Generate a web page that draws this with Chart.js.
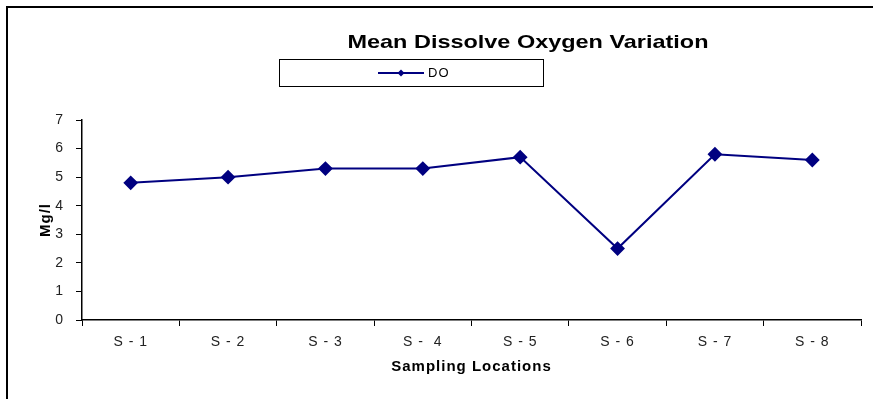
<!DOCTYPE html>
<html>
<head>
<meta charset="utf-8">
<title>Mean Dissolve Oxygen Variation</title>
<script src="https://cdn.jsdelivr.net/npm/chart.js@4"></script>
<style>
    body { margin: 0; background: #fff; }
    canvas { display: block; }
</style>
</head>
<body>
<canvas id="doChart" width="873" height="399"></canvas>
<script>
// data
const locations = ['S - 1', 'S - 2', 'S - 3', 'S -  4', 'S - 5', 'S - 6', 'S - 7', 'S - 8'];
const doValues = [4.8, 5.0, 5.3, 5.3, 5.7, 2.5, 5.8, 5.6];
const yTicks = [0, 1, 2, 3, 4, 5, 6, 7];

const lineColor = '#000080';
const fontName = '"Liberation Sans", Arial, sans-serif';

// frame, title and legend box like the excel sheet
const decorPlugin = {
    id: 'decor',
    beforeDraw: (chart) => {
        // the original text looks a bit stretched sideways
        chart.ctx.letterSpacing = '1px';
    },
    afterDraw: (chart) => {
        const ctx = chart.ctx;
        ctx.save();
        ctx.letterSpacing = '0px';
        // outer frame (top + left only visible)
        ctx.strokeStyle = '#000';
        ctx.lineWidth = 2;
        ctx.beginPath();
        ctx.moveTo(7, 399);
        ctx.lineTo(7, 7);
        ctx.lineTo(873, 7);
        ctx.stroke();

        // title, stretched to the width of the original
        ctx.save();
        ctx.fillStyle = '#000';
        ctx.font = 'bold 19px ' + fontName;
        ctx.textAlign = 'center';
        ctx.textBaseline = 'alphabetic';
        const w = ctx.measureText('Mean Dissolve Oxygen Variation').width;
        ctx.translate(528, 48);
        ctx.scale(361 / w, 1);
        ctx.fillText('Mean Dissolve Oxygen Variation', 0, 0);
        ctx.restore();

        // legend box
        ctx.lineWidth = 1;
        ctx.strokeStyle = '#000';
        ctx.strokeRect(279.5, 59.5, 264, 27);
        ctx.strokeStyle = lineColor;
        ctx.lineWidth = 2;
        ctx.beginPath();
        ctx.moveTo(378, 73);
        ctx.lineTo(424, 73);
        ctx.stroke();
        ctx.fillStyle = lineColor;
        ctx.beginPath();
        ctx.moveTo(401, 69.5);
        ctx.lineTo(404.5, 73);
        ctx.lineTo(401, 76.5);
        ctx.lineTo(397.5, 73);
        ctx.closePath();
        ctx.fill();
        ctx.fillStyle = '#000';
        ctx.font = '13px ' + fontName;
        ctx.letterSpacing = '1px';
        ctx.textAlign = 'left';
        ctx.textBaseline = 'middle';
        ctx.fillText(chart.data.datasets[0].label, 428, 73);
        ctx.restore();
    }
};

const ctx = document.getElementById('doChart').getContext('2d');
new Chart(ctx, {
    type: 'line',
    data: {
        labels: locations,
        datasets: [{
            label: 'DO',
            data: doValues,
            borderColor: lineColor,
            backgroundColor: lineColor,
            borderWidth: 2,
            pointStyle: 'rectRot',
            pointRadius: 6,
            pointHoverRadius: 6,
            tension: 0
        }]
    },
    options: {
        responsive: false,
        animation: false,
        devicePixelRatio: 1,
        layout: {
            padding: { left: 0, top: 120, right: 12, bottom: 0 }
        },
        plugins: {
            legend: { display: false },
            title: { display: false },
            tooltip: { enabled: false }
        },
        scales: {
            x: {
                offset: true,
                grid: {
                    offset: true,
                    drawOnChartArea: false,
                    drawTicks: true,
                    tickLength: 6,
                    color: '#000'
                },
                border: { color: '#000', width: 1.5 },
                ticks: {
                    color: '#222',
                    padding: 8,
                    maxRotation: 0,
                    font: { family: fontName, size: 14 }
                },
                title: {
                    display: true,
                    text: 'Sampling Locations',
                    color: '#000',
                    font: { family: fontName, size: 15, weight: 'bold' },
                    padding: { top: 0, bottom: 23 }
                },
                afterFit: (scale) => { scale.height = 79; }
            },
            y: {
                min: 0,
                max: 7,
                afterBuildTicks: (scale) => {
                    scale.ticks = yTicks.map(v => ({ value: v }));
                },
                grid: {
                    drawOnChartArea: false,
                    drawTicks: true,
                    tickLength: 6,
                    color: '#000'
                },
                border: { color: '#000', width: 1.5 },
                ticks: {
                    color: '#222',
                    padding: 12,
                    font: { family: fontName, size: 14 }
                },
                title: {
                    display: true,
                    text: 'Mg/l',
                    color: '#000',
                    font: { family: fontName, size: 15, weight: 'bold' },
                    padding: { top: 37, bottom: 0 }
                },
                afterFit: (scale) => { scale.width = 82; }
            }
        }
    },
    plugins: [decorPlugin]
});
</script>
</body>
</html>
